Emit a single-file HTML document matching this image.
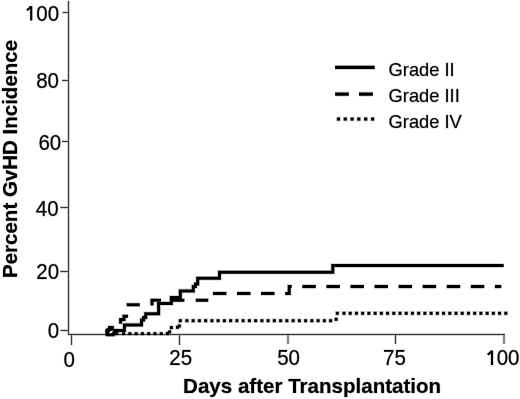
<!DOCTYPE html>
<html><head><meta charset="utf-8"><style>
html,body{margin:0;padding:0;background:#fff;}
body{width:520px;height:399px;overflow:hidden;}
svg{display:block;will-change:transform;}
text{font-family:"Liberation Sans",sans-serif;}
.t{fill:#000;stroke:#000;stroke-width:0.1px;}
.h{fill:#dcdcdc;stroke:#dcdcdc;stroke-width:1.3px;stroke-linejoin:round;}
</style></head><body>
<svg width="520" height="399" viewBox="0 0 520 399">

<g stroke="#d2d2d2" stroke-width="3.0" fill="none">
<path d="M68.5,1 V335"/>
<path d="M68,334.5 H505"/>
<path d="M62.5,12.5 H68 M62,80.5 H68 M62,141.5 H68 M60.3,207.5 H68 M60.3,271.5 H68 M60.5,330.5 H68"/>
<path d="M71.5,335 V345 M179.5,335 V345 M288,335 V344 M395.5,335 V344 M504,335 V344"/>
</g>
<text class="h" transform="translate(47.6,87.7) scale(1,1.035)" font-size="20.5" text-anchor="middle">80</text>
<text class="h" transform="translate(49.8,149.7) scale(1,1.035)" font-size="20.5" text-anchor="middle">60</text>
<text class="h" transform="translate(47.2,215.9) scale(1,1.035)" font-size="20.5" text-anchor="middle">40</text>
<text class="h" transform="translate(47.7,278.6) scale(1,1.035)" font-size="20.5" text-anchor="middle">20</text>
<text class="h" transform="translate(53.4,337.8) scale(1,1.035)" font-size="20.5" text-anchor="middle">0</text>
<text class="h" transform="translate(47.65,20.8) scale(1,1.035)" font-size="20.5" text-anchor="middle">00</text>
<text class="h" transform="translate(69.3,367.2) scale(1,1.035)" font-size="20.5" text-anchor="middle">0</text>
<text class="h" transform="translate(180.75,365.1) scale(1,1.035)" font-size="20.5" text-anchor="middle">25</text>
<text class="h" transform="translate(288.55,365) scale(1,1.035)" font-size="20.5" text-anchor="middle">50</text>
<text class="h" transform="translate(394.4,364.5) scale(1,1.035)" font-size="20.5" text-anchor="middle">75</text>
<text class="h" transform="translate(508.1,365.4) scale(1,1.035)" font-size="20.5" text-anchor="middle">00</text>
<text class="h" transform="translate(183.1,393.1) scale(1,1.02)" font-size="20.55" text-anchor="start" font-weight="bold">Days after Transplantation</text>
<text class="h" transform="translate(17.2,278) rotate(-90)" font-size="20.5" font-weight="bold">Percent GvHD Incidence</text>
<text class="h" transform="translate(388.6,75.8) scale(1,1.03)" font-size="18.3" text-anchor="start">Grade II</text>
<text class="h" transform="translate(388.6,101.7) scale(1,1.03)" font-size="18.3" text-anchor="start">Grade III</text>
<text class="h" transform="translate(388.6,128) scale(1,1.03)" font-size="18.3" text-anchor="start">Grade IV</text>
<path d="M26.8,10.1 Q29.6,8.8 31,6.3" stroke="#dcdcdc" stroke-width="3.4" fill="none"/>
<path d="M31.2,6.2 V20.5" stroke="#dcdcdc" stroke-width="3.4" fill="none"/>
<path d="M487.6,354.5 Q490.4,353.2 491.8,350.7" stroke="#dcdcdc" stroke-width="3.4" fill="none"/>
<path d="M492,350.6 V365" stroke="#dcdcdc" stroke-width="3.4" fill="none"/>
<g stroke="#cdcdcd" stroke-width="4.6" fill="none">
<path d="M112.5,330.5 H124.4 V324.9 H141.5 V320 H143.6 V317.5 H145.7 V313.8 H158.6 V303.4 H171.3 V297.5 H180.3 V290.9 H193.3 V286.5 H195.5 V284 H197.7 V278.3 H219.5 V272.2 H332.8 V265.5 H503.7"/>
<path d="M120.6,323.8 V319.5 H124 V316.3 H128.1 M128.2,306.3 V304.7 H139.8 M152,305.6 V300.2 H161 M170.9,300.2 H184.4 M195.7,300.2 H208.3 M212.9,293.4 H226.4 M237,293.4 H250.5 M261,293.4 H274.5 M285.2,293.4 H289.2 V286.6 H291.7 M302.3,286.6 H315.8 M326.37,286.6 H339.87 M350.44,286.6 H363.94 M374.51,286.6 H388.01 M398.58,286.6 H412.08 M422.65,286.6 H436.15 M446.72,286.6 H460.22 M470.79,286.6 H484.29 M494.86,286.6 H501.3"/>
<path d="M335,67.35 H374.7 M335.1,94.15 H348.8 M359,94.15 H372.9" stroke-width="4.7"/>
</g>
<g fill="#cdcdcd" stroke="#cdcdcd" stroke-width="1.6">
<rect x="336.95" y="117.5" width="3.1" height="3.1"/>
<rect x="343.75" y="117.5" width="3.1" height="3.1"/>
<rect x="350.55" y="117.5" width="3.1" height="3.1"/>
<rect x="357.25" y="117.5" width="3.1" height="3.1"/>
<rect x="364.15" y="117.5" width="3.1" height="3.1"/>
<rect x="371.05" y="117.5" width="3.1" height="3.1"/>
<rect x="122.1" y="332.2" width="3" height="3"/>
<rect x="128.37" y="332.2" width="3" height="3"/>
<rect x="134.64" y="332.2" width="3" height="3"/>
<rect x="140.91" y="332.2" width="3" height="3"/>
<rect x="147.18" y="332.2" width="3" height="3"/>
<rect x="153.45" y="332.2" width="3" height="3"/>
<rect x="159.72" y="332.2" width="3" height="3"/>
<rect x="165.99" y="332.2" width="3" height="3"/>
<rect x="115.5" y="332.2" width="3" height="3"/>
<rect x="166" y="332" width="3" height="3"/>
<rect x="168.1" y="330.4" width="3" height="3"/>
<rect x="169.9" y="326.1" width="3" height="3"/>
<rect x="176" y="325.8" width="3" height="3"/>
<rect x="177.9" y="324.4" width="3" height="3"/>
<rect x="178.8" y="319.2" width="3" height="3"/>
<rect x="185.4" y="319.2" width="3" height="3"/>
<rect x="191.65" y="319.2" width="3" height="3"/>
<rect x="197.9" y="319.2" width="3" height="3"/>
<rect x="204.14" y="319.2" width="3" height="3"/>
<rect x="210.39" y="319.2" width="3" height="3"/>
<rect x="216.64" y="319.2" width="3" height="3"/>
<rect x="222.89" y="319.2" width="3" height="3"/>
<rect x="229.14" y="319.2" width="3" height="3"/>
<rect x="235.38" y="319.2" width="3" height="3"/>
<rect x="241.63" y="319.2" width="3" height="3"/>
<rect x="247.88" y="319.2" width="3" height="3"/>
<rect x="254.13" y="319.2" width="3" height="3"/>
<rect x="260.38" y="319.2" width="3" height="3"/>
<rect x="266.62" y="319.2" width="3" height="3"/>
<rect x="272.87" y="319.2" width="3" height="3"/>
<rect x="279.12" y="319.2" width="3" height="3"/>
<rect x="285.37" y="319.2" width="3" height="3"/>
<rect x="291.62" y="319.2" width="3" height="3"/>
<rect x="297.86" y="319.2" width="3" height="3"/>
<rect x="304.11" y="319.2" width="3" height="3"/>
<rect x="310.36" y="319.2" width="3" height="3"/>
<rect x="316.61" y="319.2" width="3" height="3"/>
<rect x="322.86" y="319.2" width="3" height="3"/>
<rect x="329.1" y="319.2" width="3" height="3"/>
<rect x="334.6" y="317.8" width="3" height="3"/>
<rect x="335.8" y="311.8" width="3" height="3"/>
<rect x="342.5" y="311.8" width="3" height="3"/>
<rect x="348.72" y="311.8" width="3" height="3"/>
<rect x="354.95" y="311.8" width="3" height="3"/>
<rect x="361.17" y="311.8" width="3" height="3"/>
<rect x="367.39" y="311.8" width="3" height="3"/>
<rect x="373.62" y="311.8" width="3" height="3"/>
<rect x="379.84" y="311.8" width="3" height="3"/>
<rect x="386.06" y="311.8" width="3" height="3"/>
<rect x="392.28" y="311.8" width="3" height="3"/>
<rect x="398.51" y="311.8" width="3" height="3"/>
<rect x="404.73" y="311.8" width="3" height="3"/>
<rect x="410.95" y="311.8" width="3" height="3"/>
<rect x="417.18" y="311.8" width="3" height="3"/>
<rect x="423.4" y="311.8" width="3" height="3"/>
<rect x="429.62" y="311.8" width="3" height="3"/>
<rect x="435.85" y="311.8" width="3" height="3"/>
<rect x="442.07" y="311.8" width="3" height="3"/>
<rect x="448.29" y="311.8" width="3" height="3"/>
<rect x="454.51" y="311.8" width="3" height="3"/>
<rect x="460.74" y="311.8" width="3" height="3"/>
<rect x="466.96" y="311.8" width="3" height="3"/>
<rect x="473.18" y="311.8" width="3" height="3"/>
<rect x="479.41" y="311.8" width="3" height="3"/>
<rect x="485.63" y="311.8" width="3" height="3"/>
<rect x="491.85" y="311.8" width="3" height="3"/>
<rect x="498.07" y="311.8" width="3" height="3"/>
<rect x="504.3" y="311.8" width="3" height="3"/>
<path d="M105.3,330 L106.6,328.2 H108 V326 H113.8 V329 H116 V335.2 H114.5 V336.3 H106.5 L105.3,335.2 Z"/>
</g>
<g stroke="#3a3a3a" stroke-width="1" fill="none">
<path d="M68.5,1 V335"/>
<path d="M68,334.5 H505"/>
<path d="M62.5,12.5 H68 M62,80.5 H68 M62,141.5 H68 M60.3,207.5 H68 M60.3,271.5 H68 M60.5,330.5 H68"/>
<path d="M71.5,335 V345 M179.5,335 V345 M288,335 V344 M395.5,335 V344 M504,335 V344"/>
</g>
<text class="t" transform="translate(47.6,87.7) scale(1,1.035)" font-size="20.5" text-anchor="middle">80</text>
<text class="t" transform="translate(49.8,149.7) scale(1,1.035)" font-size="20.5" text-anchor="middle">60</text>
<text class="t" transform="translate(47.2,215.9) scale(1,1.035)" font-size="20.5" text-anchor="middle">40</text>
<text class="t" transform="translate(47.7,278.6) scale(1,1.035)" font-size="20.5" text-anchor="middle">20</text>
<text class="t" transform="translate(53.4,337.8) scale(1,1.035)" font-size="20.5" text-anchor="middle">0</text>
<text class="t" transform="translate(47.65,20.8) scale(1,1.035)" font-size="20.5" text-anchor="middle">00</text>
<text class="t" transform="translate(69.3,367.2) scale(1,1.035)" font-size="20.5" text-anchor="middle">0</text>
<text class="t" transform="translate(180.75,365.1) scale(1,1.035)" font-size="20.5" text-anchor="middle">25</text>
<text class="t" transform="translate(288.55,365) scale(1,1.035)" font-size="20.5" text-anchor="middle">50</text>
<text class="t" transform="translate(394.4,364.5) scale(1,1.035)" font-size="20.5" text-anchor="middle">75</text>
<text class="t" transform="translate(508.1,365.4) scale(1,1.035)" font-size="20.5" text-anchor="middle">00</text>
<text class="t" transform="translate(183.1,393.1) scale(1,1.02)" font-size="20.55" text-anchor="start" font-weight="bold">Days after Transplantation</text>
<text class="t" transform="translate(17.2,278) rotate(-90)" font-size="20.5" font-weight="bold">Percent GvHD Incidence</text>
<text class="t" transform="translate(388.6,75.8) scale(1,1.03)" font-size="18.3" text-anchor="start">Grade II</text>
<text class="t" transform="translate(388.6,101.7) scale(1,1.03)" font-size="18.3" text-anchor="start">Grade III</text>
<text class="t" transform="translate(388.6,128) scale(1,1.03)" font-size="18.3" text-anchor="start">Grade IV</text>
<path d="M26.8,10.1 Q29.6,8.8 31,6.3" stroke="#000" stroke-width="2.1" fill="none"/>
<path d="M31.2,6.2 V20.5" stroke="#000" stroke-width="2.1" fill="none"/>
<path d="M487.6,354.5 Q490.4,353.2 491.8,350.7" stroke="#000" stroke-width="2.1" fill="none"/>
<path d="M492,350.6 V365" stroke="#000" stroke-width="2.1" fill="none"/>
<g stroke="#000" stroke-width="3" fill="none">
<path d="M112.5,330.5 H124.4 V324.9 H141.5 V320 H143.6 V317.5 H145.7 V313.8 H158.6 V303.4 H171.3 V297.5 H180.3 V290.9 H193.3 V286.5 H195.5 V284 H197.7 V278.3 H219.5 V272.2 H332.8 V265.5 H503.7"/>
<path d="M120.6,323.8 V319.5 H124 V316.3 H128.1 M128.2,306.3 V304.7 H139.8 M152,305.6 V300.2 H161 M170.9,300.2 H184.4 M195.7,300.2 H208.3 M212.9,293.4 H226.4 M237,293.4 H250.5 M261,293.4 H274.5 M285.2,293.4 H289.2 V286.6 H291.7 M302.3,286.6 H315.8 M326.37,286.6 H339.87 M350.44,286.6 H363.94 M374.51,286.6 H388.01 M398.58,286.6 H412.08 M422.65,286.6 H436.15 M446.72,286.6 H460.22 M470.79,286.6 H484.29 M494.86,286.6 H501.3"/>
<path d="M335,67.35 H374.7 M335.1,94.15 H348.8 M359,94.15 H372.9" stroke-width="3.1"/>
</g>
<g fill="#000">
<rect x="336.95" y="117.5" width="3.1" height="3.1"/>
<rect x="343.75" y="117.5" width="3.1" height="3.1"/>
<rect x="350.55" y="117.5" width="3.1" height="3.1"/>
<rect x="357.25" y="117.5" width="3.1" height="3.1"/>
<rect x="364.15" y="117.5" width="3.1" height="3.1"/>
<rect x="371.05" y="117.5" width="3.1" height="3.1"/>
<rect x="122.1" y="332.2" width="3" height="3"/>
<rect x="128.37" y="332.2" width="3" height="3"/>
<rect x="134.64" y="332.2" width="3" height="3"/>
<rect x="140.91" y="332.2" width="3" height="3"/>
<rect x="147.18" y="332.2" width="3" height="3"/>
<rect x="153.45" y="332.2" width="3" height="3"/>
<rect x="159.72" y="332.2" width="3" height="3"/>
<rect x="165.99" y="332.2" width="3" height="3"/>
<rect x="115.5" y="332.2" width="3" height="3"/>
<rect x="166" y="332" width="3" height="3"/>
<rect x="168.1" y="330.4" width="3" height="3"/>
<rect x="169.9" y="326.1" width="3" height="3"/>
<rect x="176" y="325.8" width="3" height="3"/>
<rect x="177.9" y="324.4" width="3" height="3"/>
<rect x="178.8" y="319.2" width="3" height="3"/>
<rect x="185.4" y="319.2" width="3" height="3"/>
<rect x="191.65" y="319.2" width="3" height="3"/>
<rect x="197.9" y="319.2" width="3" height="3"/>
<rect x="204.14" y="319.2" width="3" height="3"/>
<rect x="210.39" y="319.2" width="3" height="3"/>
<rect x="216.64" y="319.2" width="3" height="3"/>
<rect x="222.89" y="319.2" width="3" height="3"/>
<rect x="229.14" y="319.2" width="3" height="3"/>
<rect x="235.38" y="319.2" width="3" height="3"/>
<rect x="241.63" y="319.2" width="3" height="3"/>
<rect x="247.88" y="319.2" width="3" height="3"/>
<rect x="254.13" y="319.2" width="3" height="3"/>
<rect x="260.38" y="319.2" width="3" height="3"/>
<rect x="266.62" y="319.2" width="3" height="3"/>
<rect x="272.87" y="319.2" width="3" height="3"/>
<rect x="279.12" y="319.2" width="3" height="3"/>
<rect x="285.37" y="319.2" width="3" height="3"/>
<rect x="291.62" y="319.2" width="3" height="3"/>
<rect x="297.86" y="319.2" width="3" height="3"/>
<rect x="304.11" y="319.2" width="3" height="3"/>
<rect x="310.36" y="319.2" width="3" height="3"/>
<rect x="316.61" y="319.2" width="3" height="3"/>
<rect x="322.86" y="319.2" width="3" height="3"/>
<rect x="329.1" y="319.2" width="3" height="3"/>
<rect x="334.6" y="317.8" width="3" height="3"/>
<rect x="335.8" y="311.8" width="3" height="3"/>
<rect x="342.5" y="311.8" width="3" height="3"/>
<rect x="348.72" y="311.8" width="3" height="3"/>
<rect x="354.95" y="311.8" width="3" height="3"/>
<rect x="361.17" y="311.8" width="3" height="3"/>
<rect x="367.39" y="311.8" width="3" height="3"/>
<rect x="373.62" y="311.8" width="3" height="3"/>
<rect x="379.84" y="311.8" width="3" height="3"/>
<rect x="386.06" y="311.8" width="3" height="3"/>
<rect x="392.28" y="311.8" width="3" height="3"/>
<rect x="398.51" y="311.8" width="3" height="3"/>
<rect x="404.73" y="311.8" width="3" height="3"/>
<rect x="410.95" y="311.8" width="3" height="3"/>
<rect x="417.18" y="311.8" width="3" height="3"/>
<rect x="423.4" y="311.8" width="3" height="3"/>
<rect x="429.62" y="311.8" width="3" height="3"/>
<rect x="435.85" y="311.8" width="3" height="3"/>
<rect x="442.07" y="311.8" width="3" height="3"/>
<rect x="448.29" y="311.8" width="3" height="3"/>
<rect x="454.51" y="311.8" width="3" height="3"/>
<rect x="460.74" y="311.8" width="3" height="3"/>
<rect x="466.96" y="311.8" width="3" height="3"/>
<rect x="473.18" y="311.8" width="3" height="3"/>
<rect x="479.41" y="311.8" width="3" height="3"/>
<rect x="485.63" y="311.8" width="3" height="3"/>
<rect x="491.85" y="311.8" width="3" height="3"/>
<rect x="498.07" y="311.8" width="3" height="3"/>
<rect x="504.3" y="311.8" width="3" height="3"/>
<path d="M105.3,330 L106.6,328.2 H108 V326 H113.8 V329 H116 V335.2 H114.5 V336.3 H106.5 L105.3,335.2 Z"/>
</g>
<path fill="#fff" d="M108.8,333.2 L110.3,331.3 L112.7,330.6 V332 L111,333.3 Z"/>
</svg>
</body></html>
